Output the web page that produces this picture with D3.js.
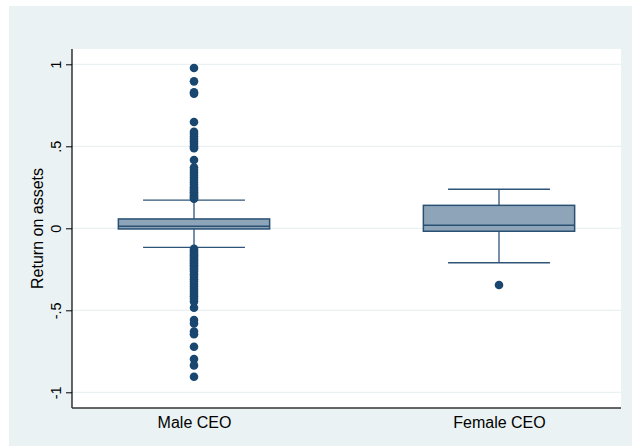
<!DOCTYPE html>
<html>
<head>
<meta charset="utf-8">
<script src="https://cdn.jsdelivr.net/npm/d3@7"></script>
<style>
  html, body { margin: 0; padding: 0; background: #ffffff; }
  svg { display: block; }
  text { font-family: "Liberation Sans", Arial, sans-serif; fill: #000; }
</style>
</head>
<body>
<svg id="chart" width="632" height="446"></svg>
<script>
// ---- data ----
const categories = ["Male CEO", "Female CEO"];
const q1Values = [-0.004, -0.018];
const medianValues = [0.012, 0.018];
const q3Values = [0.057, 0.140];
const whiskerLow = [-0.116, -0.210];
const whiskerHigh = [0.172, 0.238];
const outliersMale = [
  0.977, 0.896, 0.830, 0.820, 0.648,
  0.589, 0.575, 0.560, 0.545, 0.530, 0.515, 0.500, 0.488,
  0.416, 0.370, 0.355, 0.340, 0.325, 0.310, 0.295, 0.280, 0.265,
  0.250, 0.240, 0.230, 0.220, 0.210, 0.200, 0.192, 0.185, 0.180,
  -0.125, -0.135, -0.145, -0.155, -0.165, -0.175, -0.185, -0.195,
  -0.205, -0.215, -0.225, -0.235, -0.245, -0.255, -0.265, -0.280,
  -0.295, -0.310, -0.325, -0.340, -0.355, -0.370, -0.385, -0.400,
  -0.415, -0.430, -0.447,
  -0.484, -0.559, -0.580, -0.630, -0.646, -0.722, -0.797, -0.836, -0.905
];
const outliersFemale = [-0.346];
const yTicks = [-1, -0.5, 0, 0.5, 1];
const yTickLabels = ["-1", "-.5", "0", ".5", "1"];
const yTitle = "Return on assets";

// ---- layout ----
const svg = d3.select("#chart");
const plot = { left: 72, right: 621, top: 49, bottom: 408 };

const x = d3.scalePoint().domain(categories).range([plot.left, plot.right]).padding(0.4);
const y = d3.scaleLinear().domain([-1, 1]).range([392.3, 64.3]);

const navy = "#1a476f";
const boxFill = "#8ea5b9";
const boxStroke = "#2a5074";
const whiskerColor = "#2e5479";
const bgColor = "#eaf2f3";

// outer background
svg.append("rect").attr("x", 9).attr("y", 6).attr("width", 623).attr("height", 440).attr("fill", bgColor);
// plot region
svg.append("rect").attr("x", plot.left).attr("y", plot.top)
  .attr("width", plot.right - plot.left).attr("height", plot.bottom - plot.top).attr("fill", "#ffffff");

// gridlines
svg.append("g").selectAll("line").data(yTicks).join("line")
  .attr("x1", plot.left).attr("x2", plot.right)
  .attr("y1", d => y(d)).attr("y2", d => y(d))
  .attr("stroke", "#e4eef0").attr("stroke-width", 1);

const halfBox = x.step() * 0.248;
const halfCap = x.step() * 0.167;

const boxData = categories.map((c, i) => ({
  cat: c, q1: q1Values[i], med: medianValues[i], q3: q3Values[i],
  lo: whiskerLow[i], hi: whiskerHigh[i],
  out: i === 0 ? outliersMale : outliersFemale
}));

const g = svg.append("g");
boxData.forEach(b => {
  const cx = x(b.cat);
  g.append("line").attr("x1", cx).attr("x2", cx).attr("y1", y(b.q3)).attr("y2", y(b.hi))
    .attr("stroke", whiskerColor).attr("stroke-width", 1.3);
  g.append("line").attr("x1", cx).attr("x2", cx).attr("y1", y(b.q1)).attr("y2", y(b.lo))
    .attr("stroke", whiskerColor).attr("stroke-width", 1.3);
  [b.hi, b.lo].forEach(v => {
    g.append("line").attr("x1", cx - halfCap).attr("x2", cx + halfCap)
      .attr("y1", y(v)).attr("y2", y(v))
      .attr("stroke", whiskerColor).attr("stroke-width", 1.3);
  });
  g.append("rect").attr("x", cx - halfBox).attr("width", halfBox * 2)
    .attr("y", y(b.q3)).attr("height", y(b.q1) - y(b.q3))
    .attr("fill", boxFill).attr("stroke", boxStroke).attr("stroke-width", 1.5);
  g.append("line").attr("x1", cx - halfBox).attr("x2", cx + halfBox)
    .attr("y1", y(b.med)).attr("y2", y(b.med))
    .attr("stroke", boxStroke).attr("stroke-width", 1.5);
  g.append("g").selectAll("circle").data(b.out).join("circle")
    .attr("cx", cx).attr("cy", d => y(d)).attr("r", 4.3).attr("fill", navy);
});

// y axis
const yAxis = d3.axisLeft(y).tickValues(yTicks).tickSize(6)
  .tickFormat((d, i) => yTickLabels[i]);
const ya = svg.append("g").attr("transform", `translate(${plot.left},0)`).call(yAxis);
ya.select(".domain").remove();
ya.selectAll(".tick line").attr("stroke", "#000").attr("stroke-width", 1);
ya.selectAll(".tick text")
  .attr("x", 0).attr("dy", null).attr("y", 0)
  .attr("text-anchor", "middle")
  .attr("transform", "translate(-11,0) rotate(-90)")
  .style("font-size", "14.5px").style("font-family", "'Liberation Sans', Arial, sans-serif")
  .attr("fill", "#000");
svg.append("line").attr("x1", plot.left).attr("x2", plot.left).attr("y1", plot.top).attr("y2", plot.bottom)
  .attr("stroke", "#000").attr("stroke-width", 1.2);

// x axis
const xAxis = d3.axisBottom(x).tickSize(0).tickPadding(0);
const xa = svg.append("g").attr("transform", `translate(0,${plot.bottom})`).call(xAxis);
xa.select(".domain").remove();
xa.selectAll(".tick text").attr("y", 20).attr("dy", null)
  .style("font-size", "16px").style("font-family", "'Liberation Sans', Arial, sans-serif")
  .attr("fill", "#000");
svg.append("line").attr("x1", plot.left).attr("x2", plot.right).attr("y1", plot.bottom).attr("y2", plot.bottom)
  .attr("stroke", "#333").attr("stroke-width", 1.3);

// y title
svg.append("text")
  .attr("transform", `translate(43,${(plot.top + plot.bottom) / 2}) rotate(-90)`)
  .attr("text-anchor", "middle")
  .style("font-size", "16px")
  .text(yTitle);
</script>
</body>
</html>
